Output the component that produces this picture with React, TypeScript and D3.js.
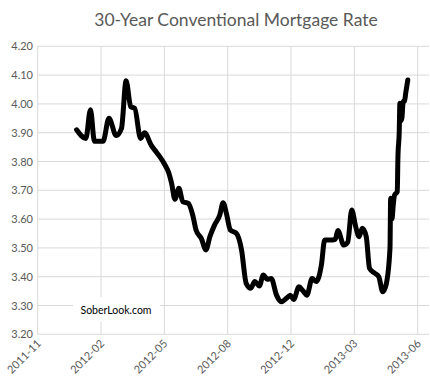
import React from "react";
import * as d3 from "d3";

const dates = [
  "2012-01-12", "2012-01-26", "2012-02-02", "2012-02-08", "2012-02-21", "2012-03-01",
  "2012-03-12", "2012-03-20", "2012-03-27", "2012-04-03", "2012-04-09", "2012-04-18",
  "2012-04-24", "2012-05-04", "2012-05-12", "2012-05-17", "2012-05-25", "2012-05-30",
  "2012-06-04", "2012-06-09", "2012-06-15", "2012-06-21", "2012-06-29", "2012-07-06",
  "2012-07-11", "2012-07-19", "2012-07-26", "2012-08-01", "2012-08-08", "2012-08-16",
  "2012-08-21", "2012-08-26", "2012-09-01", "2012-09-10", "2012-09-18", "2012-09-25",
  "2012-10-02", "2012-10-08", "2012-10-15", "2012-10-21", "2012-10-27", "2012-11-02",
  "2012-11-10", "2012-11-17", "2012-11-25", "2012-12-01", "2012-12-06", "2012-12-14",
  "2012-12-20", "2012-12-26", "2013-01-03", "2013-01-09", "2013-01-17", "2013-01-22",
  "2013-01-30", "2013-02-07", "2013-02-11", "2013-02-20", "2013-02-26", "2013-03-04",
  "2013-03-10", "2013-03-15", "2013-03-20", "2013-03-26", "2013-03-31", "2013-04-08",
  "2013-04-14", "2013-04-20", "2013-04-25", "2013-05-01", "2013-05-02", "2013-05-04",
  "2013-05-06", "2013-05-08", "2013-05-12", "2013-05-13", "2013-05-15", "2013-05-16",
  "2013-05-17", "2013-05-19", "2013-05-21", "2013-05-23", "2013-05-25", "2013-05-28",
];

const rates = [
  3.91, 3.88, 3.98, 3.87, 3.87, 3.95,
  3.89, 3.915, 4.08, 3.99, 3.985, 3.88,
  3.9, 3.857, 3.832, 3.817, 3.788, 3.765,
  3.724, 3.669, 3.707, 3.66, 3.655, 3.614,
  3.562, 3.533, 3.493, 3.539, 3.579, 3.614,
  3.657, 3.62, 3.562, 3.551, 3.493, 3.377,
  3.36, 3.383, 3.368, 3.406, 3.391, 3.394,
  3.336, 3.313, 3.325, 3.336, 3.321, 3.365,
  3.351, 3.336, 3.394, 3.383, 3.44, 3.527,
  3.527, 3.53, 3.56, 3.51, 3.52, 3.632,
  3.574, 3.539, 3.568, 3.539, 3.429, 3.412,
  3.4, 3.348, 3.371, 3.499, 3.672, 3.6,
  3.65, 3.684, 3.695, 3.811, 3.903, 4.002,
  3.94, 3.95, 4.008, 4.01, 4.04, 4.083,
];

const yTicks = [3.2, 3.3, 3.4, 3.5, 3.6, 3.7, 3.8, 3.9, 4.0, 4.1, 4.2];
const xStart = "2011-11-14";
const xStepDays = 96;
const xTickCount = 7;

const W = 430;
const H = 386;
const left = 37.7;
const right = 417.7;
const top = 46.3;
const bottom = 334.3;
const gridRight = 429;

export default function App() {
  const parse = d3.timeParse("%Y-%m-%d");
  const t0 = parse(xStart) as Date;
  const xTicks = d3.range(xTickCount).map((i) => d3.timeDay.offset(t0, i * xStepDays));
  const x = d3.scaleTime().domain([xTicks[0], xTicks[xTicks.length - 1]]).range([left, right]);
  const y = d3.scaleLinear().domain([3.2, 4.2]).range([bottom, top]);
  const fmt = d3.timeFormat("%Y-%m");

  const pts = dates.map((d, i) => ({ date: parse(d) as Date, v: rates[i] }));
  const line = d3
    .line<{ date: Date; v: number }>()
    .x((d) => x(d.date))
    .y((d) => y(d.v))
    .curve(d3.curveMonotoneX);

  const font = "Lato, 'Open Sans', sans-serif";

  return (
    <svg width={W} height={H} style={{ position: "absolute", left: 0, top: 0, background: "#fff" }}>
      <text x={236} y={26} textAnchor="middle" fontFamily={font} fontSize={17.5} fill="#595959">
        30-Year Conventional Mortgage Rate
      </text>
      {yTicks.map((t) => (
        <g key={t}>
          <line x1={left} x2={gridRight} y1={y(t)} y2={y(t)} stroke="#d9d9d9" strokeWidth={1} />
          <text x={33} y={y(t) + 4} textAnchor="end" fontFamily={font} fontSize={11} fill="#595959">
            {t.toFixed(2)}
          </text>
        </g>
      ))}
      {xTicks.map((t, i) => (
        <g key={i}>
          <line x1={x(t)} x2={x(t)} y1={top} y2={bottom} stroke="#d9d9d9" strokeWidth={1} />
          <text
            transform={`translate(${x(t) + 4},${bottom + 10}) rotate(-45)`}
            textAnchor="end"
            fontFamily={font}
            fontSize={11}
            fill="#595959"
          >
            {fmt(t)}
          </text>
        </g>
      ))}
      <rect x={73} y={297} width={87} height={25} fill="#fff" />
      <text x={116} y={313.5} textAnchor="middle" fontFamily={font} fontSize={10.5} fill="#000">
        SoberLook.com
      </text>
      <path
        d={line(pts) || ""}
        fill="none"
        stroke="#000"
        strokeWidth={5}
        strokeLinejoin="round"
        strokeLinecap="round"
      />
    </svg>
  );
}
